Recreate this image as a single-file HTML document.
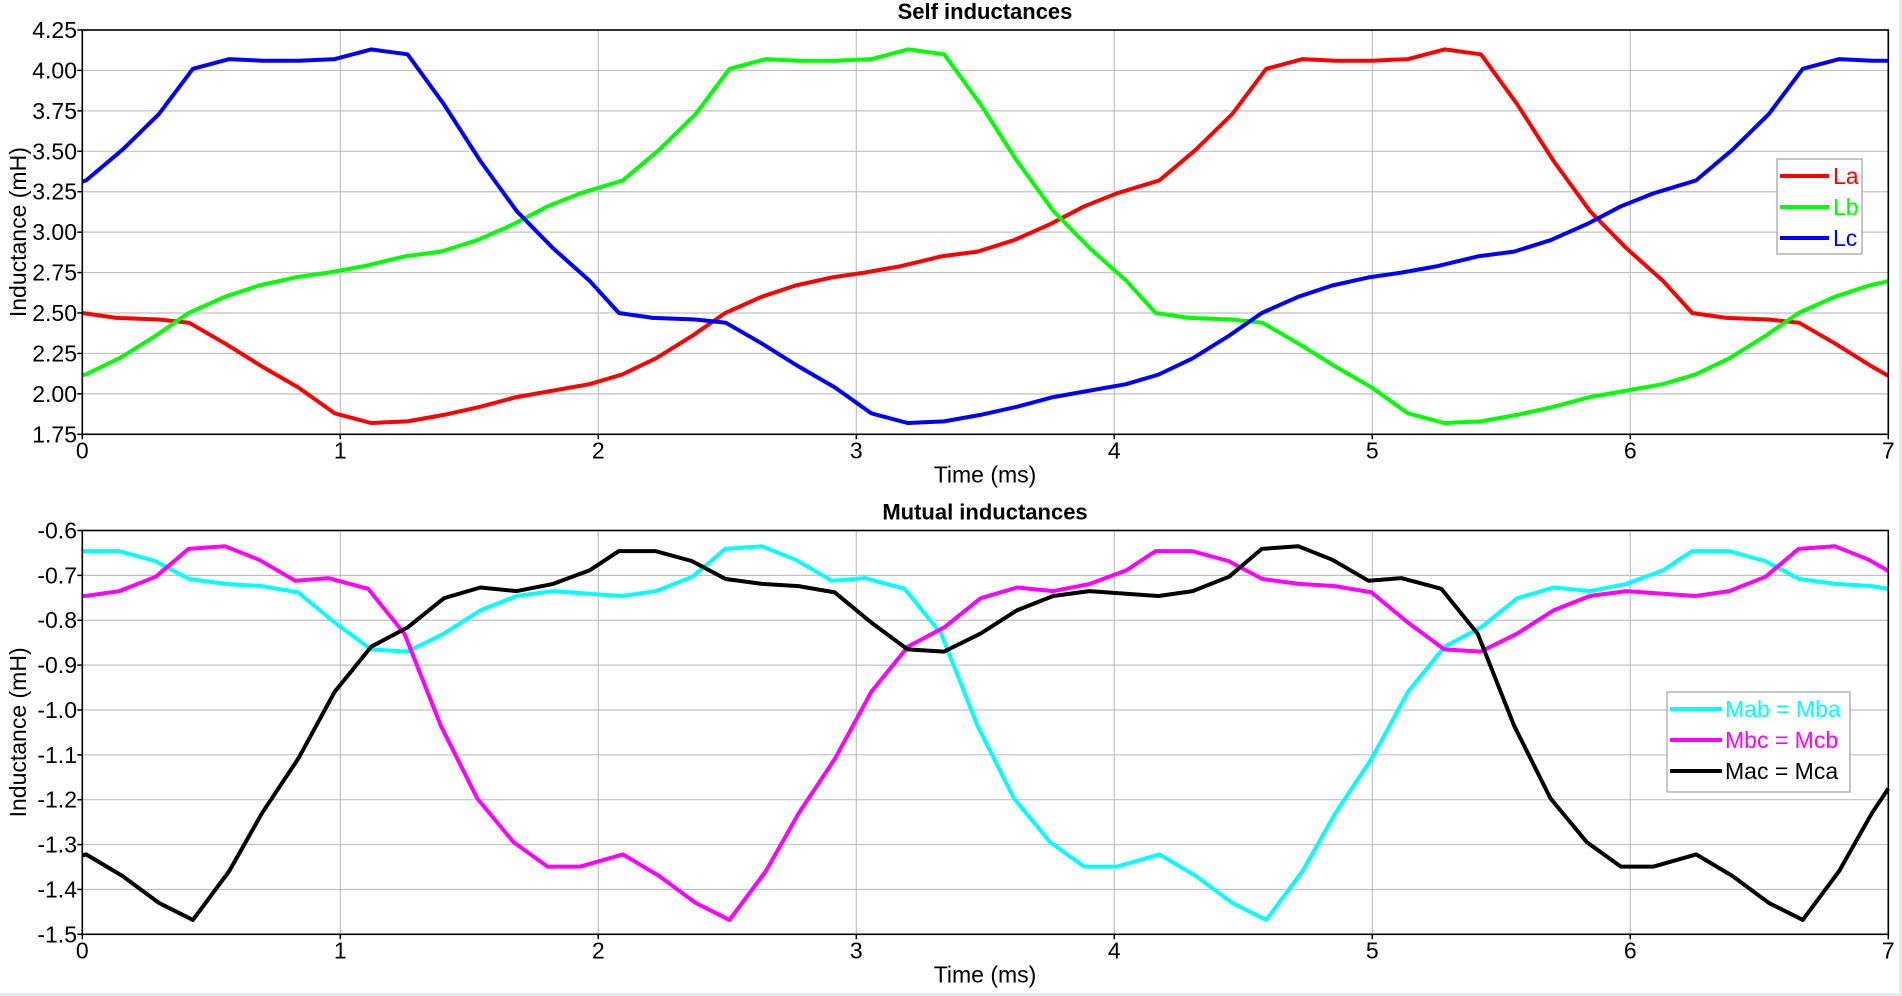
<!DOCTYPE html>
<html><head><meta charset="utf-8"><style>
html,body{margin:0;padding:0;background:#fff;}
svg{display:block;font-family:"Liberation Sans",Arial,sans-serif;}
</style></head><body>
<svg id="s" width="1902" height="996" xmlns="http://www.w3.org/2000/svg"></svg>
<script>
const S=document.getElementById('s');
const NS='http://www.w3.org/2000/svg';
function el(tag,attrs,text){const e=document.createElementNS(NS,tag);for(const k in attrs)e.setAttribute(k,attrs[k]);if(text!==undefined)e.textContent=text;S.appendChild(e);return e;}
el('rect',{x:0,y:0,width:1902,height:996,fill:'#fff'});
el('rect',{x:1899,y:0,width:3,height:996,fill:'#e6eaed'});
el('rect',{x:0,y:993,width:1902,height:3,fill:'#e6eaed'});
const X0=82.3,PX=258, P=6.24;
const xo=t=>X0+t*PX;
const td=x=>(x-67)/212.7;
const La=[[67,2.50],[95,2.47],[130,2.46],[155,2.44],[185,2.31],[215,2.17],[245,2.04],[275,1.88],[305,1.82],[335,1.83],[365,1.87],[395,1.92],[425,1.98],[455,2.02],[485,2.06],[512,2.12],[540,2.22],[570,2.36],[597,2.50],[627,2.60],[655,2.67],[685,2.72],[712,2.75],[742,2.79],[775,2.85],[805,2.88],[835,2.95],[865,3.05],[893,3.16],[920,3.24],[955,3.32],[985,3.51],[1015,3.73],[1043,4.01],[1073,4.07],[1100,4.06],[1130,4.06],[1160,4.07],[1190,4.13],[1220,4.10],[1250,3.79],[1280,3.44],[1310,3.13],[1340,2.90],[1370,2.70],[1400,2.51],[1430,2.47],[1460,2.46],[1490,2.43],[1520,2.29],[1556,2.11]];
const Mab=[[67,-0.646],[97,-0.646],[127,-0.668],[155,-0.708],[185,-0.719],[215,-0.724],[245,-0.738],[275,-0.805],[305,-0.865],[335,-0.870],[365,-0.830],[395,-0.778],[425,-0.746],[455,-0.735],[485,-0.741],[512,-0.746],[540,-0.735],[570,-0.703],[597,-0.641],[627,-0.635],[655,-0.665],[685,-0.712],[712,-0.706],[745,-0.730],[775,-0.830],[805,-1.035],[835,-1.197],[865,-1.295],[893,-1.349],[920,-1.349],[955,-1.322],[985,-1.370],[1015,-1.430],[1043,-1.468],[1073,-1.359],[1100,-1.230],[1130,-1.108],[1160,-0.959],[1190,-0.859],[1220,-0.816],[1250,-0.751],[1280,-0.727],[1310,-0.735],[1340,-0.719],[1370,-0.689],[1400,-0.641],[1430,-0.646],[1460,-0.668],[1490,-0.708],[1520,-0.716],[1556,-0.727]];
function series(base,shift){
  const b=base.map(p=>[td(p[0]),p[1]]).filter(p=>p[0]<P-0.01);
  const pts=[];
  for(let k=-2;k<=2;k++)for(const p of b){pts.push([p[0]+k*P-shift,p[1]]);}
  pts.sort((a,c)=>a[0]-c[0]);
  const out=[];
  for(let i=0;i<pts.length;i++){
    const [t,v]=pts[i];
    if(t>=0&&t<=7)out.push([t,v]);
    if(i+1<pts.length){const [t2,v2]=pts[i+1];
      for(const edge of [0,7]){if(t<edge&&t2>edge){out.push([edge,v+(v2-v)*(edge-t)/(t2-t)]);}}}
  }
  out.sort((a,c)=>a[0]-c[0]);
  return out;
}
function plot(top,bot,vmin,vmax,step,dec,title,ylabel,data,legend,leg){
  const yo=v=>top+(vmax-v)/(vmax-vmin)*(bot-top);
  const n=Math.round((vmax-vmin)/step);
  for(let i=0;i<=n;i++){const v=vmin+i*step,y=yo(v);
    el('line',{x1:X0,x2:xo(7),y1:y,y2:y,stroke:'#c0c0c0','stroke-width':1.2});
    el('line',{x1:X0-5,x2:X0,y1:y,y2:y,stroke:'#000','stroke-width':1.5});
    el('text',{x:77,y:y+8,'text-anchor':'end','font-size':23,fill:'#000'},v.toFixed(dec));}
  for(let t=0;t<=7;t++){const x=xo(t);
    el('line',{x1:x,x2:x,y1:top,y2:bot,stroke:'#c0c0c0','stroke-width':1.2});
    el('line',{x1:x,x2:x,y1:bot,y2:bot+5,stroke:'#000','stroke-width':1.5});
    el('text',{x:x,y:bot+24,'text-anchor':'middle','font-size':23},String(t));}
  el('text',{x:985,y:top-11,'text-anchor':'middle','font-size':22,'font-weight':'bold'},title);
  el('text',{x:985,y:bot+48,'text-anchor':'middle','font-size':23},'Time (ms)');
  const cy=(top+bot)/2;
  el('text',{x:20,y:cy,transform:`rotate(-90 20 ${cy})`,'text-anchor':'middle','dominant-baseline':'middle','font-size':23},ylabel);
  for(const [pts,col] of data){
    el('polyline',{points:pts.map(p=>xo(p[0]).toFixed(1)+','+yo(p[1]).toFixed(1)).join(' '),fill:'none',stroke:col,'stroke-width':4,'stroke-linejoin':'round'});
  }
  el('rect',{x:X0,y:top,width:xo(7)-X0,height:bot-top,fill:'none',stroke:'#000','stroke-width':1.6});
  el('rect',{x:leg.x,y:leg.y,width:leg.w,height:leg.h,fill:'#fff',stroke:'#a0a0a0','stroke-width':1.2});
  legend.forEach((l,i)=>{const y=leg.y0+i*leg.dy;
    el('line',{x1:leg.lx1,x2:leg.lx2,y1:y,y2:y,stroke:l[1],'stroke-width':4});
    el('text',{x:leg.tx,y:y+8,'font-size':23,fill:l[1]},l[0]);});
}
plot(30,434.3,1.75,4.25,0.25,2,'Self inductances','Inductance (mH)',
 [[series(La,0),'#ff0000'],[series(La,2.08),'#00ff00'],[series(La,4.16),'#0000ff']],
 [['La','#ff0000'],['Lb','#00ff00'],['Lc','#0000ff']],
 {x:1777,y:159,w:85,h:95,y0:176,dy:31,lx1:1780,lx2:1829,tx:1833});
plot(530.5,934.3,-1.5,-0.6,0.1,1,'Mutual inductances','Inductance (mH)',
 [[series(Mab,0),'#00ffff'],[series(Mab,2.08),'#ff00ff'],[series(Mab,4.16),'#000000']],
 [['Mab = Mba','#00ffff'],['Mbc = Mcb','#ff00ff'],['Mac = Mca','#000000']],
 {x:1667,y:692,w:183,h:100,y0:709,dy:31,lx1:1670,lx2:1722,tx:1725});
</script>
</body></html>
